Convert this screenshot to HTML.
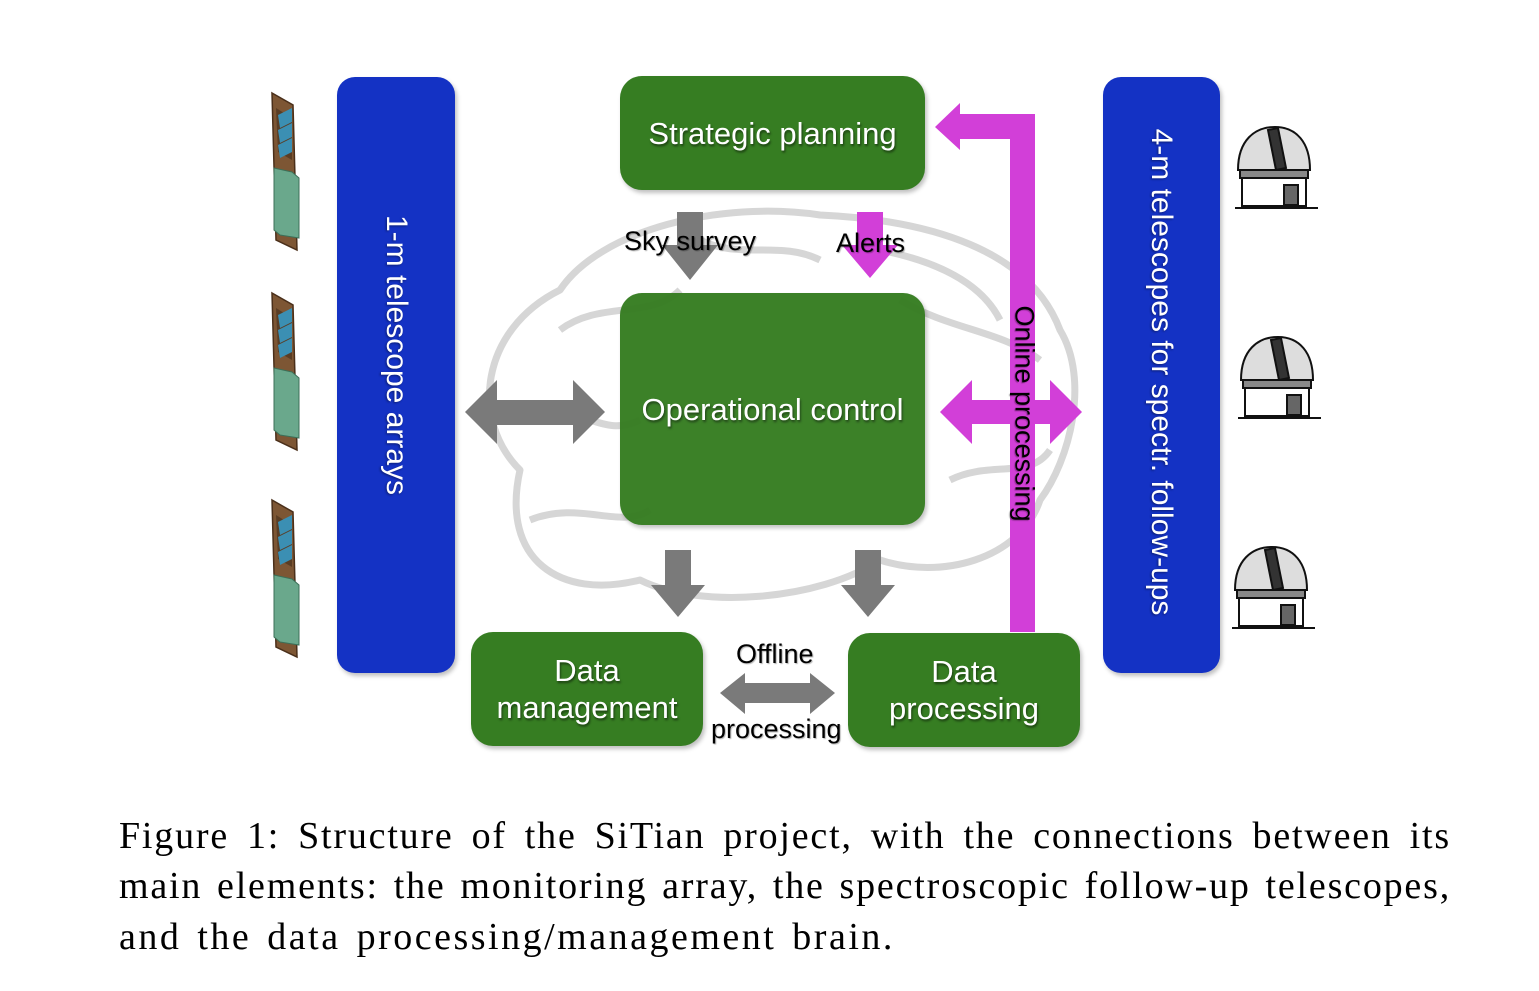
<!DOCTYPE html>
<html><head><meta charset="utf-8"><style>
body{margin:0;background:#fff;width:1539px;height:991px;overflow:hidden;position:relative;font-family:"Liberation Sans",sans-serif}
.box{position:absolute;background:#367d22;border-radius:22px;color:#fff;display:flex;align-items:center;justify-content:center;text-align:center;font-size:31px;line-height:37px;text-shadow:1px 2px 2px rgba(0,0,0,.5);box-shadow:2px 3px 4px rgba(0,0,0,.25)}
.blue{position:absolute;background:#1432c4;border-radius:18px;box-shadow:2px 3px 4px rgba(0,0,0,.25)}
.vt{position:absolute;color:#fff;font-size:30px;white-space:nowrap;transform-origin:center;text-shadow:1px 1px 2px rgba(0,0,0,.4)}
.lbl{position:absolute;font-size:27px;color:#000;white-space:nowrap;text-shadow:1px 1px 1px rgba(0,0,0,.3)}
.cl{position:absolute;left:119px;width:1332px;font-family:"Liberation Serif",serif;font-size:38px;line-height:44px;color:#000;white-space:nowrap}
.j{text-align:justify;text-align-last:justify;white-space:normal;letter-spacing:1.8px}
</style></head><body>
<svg width="1539" height="991" style="position:absolute;left:0;top:0">
<g fill="none" stroke="#d6d6d6" stroke-width="7" stroke-linejoin="round">
<path d="M520 470 C470 420 480 330 560 290 C600 230 720 200 820 215 C930 220 1030 250 1060 330 C1090 380 1070 460 1040 500 C1020 560 940 580 880 560 C820 600 700 610 640 580 C560 600 500 560 520 470Z"/>
<path d="M560 330 C600 300 650 320 680 290 M540 420 C580 400 600 440 640 420 M880 250 C930 260 980 280 1000 320 M900 300 C950 330 1000 330 1040 360 M530 520 C580 500 620 530 650 510 M950 480 C990 460 1030 480 1050 450 M700 240 C740 260 780 240 820 260"/>
</g>
<g fill="#7a7a7a">
<polygon points="465,412 497,380 497,400 573,400 573,380 605,412 573,444 573,425 497,425 497,444"/>
<polygon points="677,212 703,212 703,245 718,245 690,280 662,245 677,245"/>
<polygon points="665,550 691,550 691,585 705,585 678,617 651,585 665,585"/>
<polygon points="855,550 881,550 881,585 895,585 868,617 841,585 855,585"/>
<polygon points="720,693 745,673 745,683 810,683 810,673 835,693 810,714 810,703 745,703 745,714"/>
</g>
<g fill="#d23fd8">
<polygon points="857,212 883,212 883,245 898,245 870,278 842,245 857,245"/>
<polygon points="935,127 960,103 960,114 1035,114 1035,632 1010,632 1010,139 960,139 960,150"/>
<polygon points="940,412 972,380 972,400 1050,400 1050,380 1082,412 1050,444 1050,424 972,424 972,444"/>
</g>
<g>
<g id="t"><polygon points="272,93 293,105 297,250 276,240" fill="#7d5634" stroke="#4a2f1a" stroke-width="1.5"/>
<polygon points="276,108 292,118 292,160 278,152" fill="#5a3d24"/>
<polygon points="278,115 292,108 292,122 280,128" fill="#3b8fb3"/><polygon points="278,130 292,123 292,137 280,143" fill="#3b8fb3"/><polygon points="278,145 292,138 292,152 280,158" fill="#3b8fb3"/>
<polygon points="274,168 292,172 299,178 299,238 280,235 274,230" fill="#6aa88c" stroke="#3c6f58" stroke-width="1"/></g>
<use href="#t" transform="translate(0,200)"/>
<use href="#t" transform="translate(0,407)"/>
</g>
<g id="d" fill="#fff" stroke="#111" stroke-width="2">
<path d="M1238 170 C1238 140 1255 127 1275 127 C1296 127 1310 142 1310 170Z" fill="#ddd"/>
<path d="M1268 130 L1278 128 L1286 168 L1276 170Z" fill="#333"/>
<rect x="1240" y="170" width="68" height="8" fill="#888"/>
<rect x="1242" y="178" width="64" height="28"/>
<rect x="1284" y="185" width="14" height="20" fill="#666"/>
<path d="M1235 208 L1318 208" stroke-width="2"/>
</g>
<use href="#d" transform="translate(3,210)"/>
<use href="#d" transform="translate(-3,420)"/>
</svg>
<div class="blue" style="left:337px;top:77px;width:118px;height:596px"></div>
<div class="blue" style="left:1103px;top:77px;width:117px;height:596px"></div>
<div class="vt" style="left:246px;top:338px;width:300px;text-align:center;transform:rotate(90deg)">1-m telescope arrays</div>
<div class="vt" style="left:911px;top:355px;width:500px;text-align:center;transform:rotate(90deg)">4-m telescopes for spectr. follow-ups</div>
<div class="box" style="left:620px;top:76px;width:305px;height:114px">Strategic planning</div>
<div class="box" style="left:620px;top:293px;width:305px;height:232px;opacity:.97">Operational control</div>
<div class="box" style="left:471px;top:632px;width:232px;height:114px">Data<br>management</div>
<div class="box" style="left:848px;top:633px;width:232px;height:114px">Data<br>processing</div>
<div class="lbl" style="left:624px;top:226px">Sky survey</div>
<div class="lbl" style="left:836px;top:228px">Alerts</div>
<div class="lbl" style="left:736px;top:639px">Offline</div>
<div class="lbl" style="left:711px;top:714px">processing</div>
<div class="lbl" style="left:894px;top:398px;width:260px;text-align:center;transform:rotate(90deg)">Online processing</div>
<div class="cl j" style="top:814px;height:44px;overflow:hidden">Figure 1: Structure of the SiTian project, with the connections between its</div>
<div class="cl j" style="top:864px;height:44px;overflow:hidden">main elements: the monitoring array, the spectroscopic follow-up telescopes,</div>
<div class="cl" style="top:915px;letter-spacing:2.5px;word-spacing:4px">and the data processing/management brain.</div>
</body></html>
